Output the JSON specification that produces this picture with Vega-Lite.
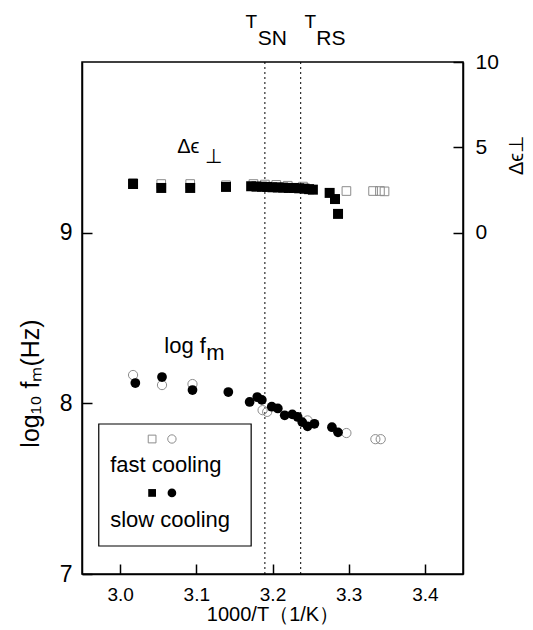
{
  "$schema": "https://vega.github.io/schema/vega-lite/v6.json",
  "width": 381,
  "height": 512,
  "autosize": {"type": "none"},
  "padding": {"left": 82, "top": 62, "right": 70, "bottom": 56},
  "background": "white",
  "config": {
    "font": "Liberation Sans",
    "view": {"stroke": "black", "strokeWidth": 1.5},
    "axis": {
      "grid": false,
      "domainColor": "black",
      "domainWidth": 1.5,
      "tickColor": "black",
      "tickWidth": 1.5,
      "labelColor": "black",
      "titleColor": "black",
      "labelFont": "Liberation Sans",
      "titleFont": "Liberation Sans",
      "titleFontWeight": "normal"
    },
    "text": {"font": "Liberation Sans", "color": "black"}
  },
  "datasets": {
    "fm": [
      {"invT": 3.017, "logf": 8.166, "cooling": "fast"},
      {"invT": 3.055, "logf": 8.107, "cooling": "fast"},
      {"invT": 3.095, "logf": 8.113, "cooling": "fast"},
      {"invT": 3.187, "logf": 7.96, "cooling": "fast"},
      {"invT": 3.193, "logf": 7.95, "cooling": "fast"},
      {"invT": 3.246, "logf": 7.9, "cooling": "fast"},
      {"invT": 3.297, "logf": 7.826, "cooling": "fast"},
      {"invT": 3.335, "logf": 7.79, "cooling": "fast"},
      {"invT": 3.342, "logf": 7.79, "cooling": "fast"},
      {"invT": 3.02, "logf": 8.119, "cooling": "slow"},
      {"invT": 3.055, "logf": 8.154, "cooling": "slow"},
      {"invT": 3.095, "logf": 8.078, "cooling": "slow"},
      {"invT": 3.142, "logf": 8.066, "cooling": "slow"},
      {"invT": 3.17, "logf": 8.008, "cooling": "slow"},
      {"invT": 3.18, "logf": 8.037, "cooling": "slow"},
      {"invT": 3.186, "logf": 8.02, "cooling": "slow"},
      {"invT": 3.199, "logf": 7.98, "cooling": "slow"},
      {"invT": 3.207, "logf": 7.97, "cooling": "slow"},
      {"invT": 3.216, "logf": 7.93, "cooling": "slow"},
      {"invT": 3.226, "logf": 7.935, "cooling": "slow"},
      {"invT": 3.233, "logf": 7.92, "cooling": "slow"},
      {"invT": 3.239, "logf": 7.89, "cooling": "slow"},
      {"invT": 3.246, "logf": 7.865, "cooling": "slow"},
      {"invT": 3.255, "logf": 7.88, "cooling": "slow"},
      {"invT": 3.278, "logf": 7.86, "cooling": "slow"},
      {"invT": 3.286, "logf": 7.83, "cooling": "slow"}
    ],
    "de": [
      {"invT": 3.017, "de": 2.92, "cooling": "fast"},
      {"invT": 3.054, "de": 2.85, "cooling": "fast"},
      {"invT": 3.092, "de": 2.85, "cooling": "fast"},
      {"invT": 3.139, "de": 2.78, "cooling": "fast"},
      {"invT": 3.175, "de": 2.85, "cooling": "fast"},
      {"invT": 3.19, "de": 2.82, "cooling": "fast"},
      {"invT": 3.205, "de": 2.8, "cooling": "fast"},
      {"invT": 3.22, "de": 2.75, "cooling": "fast"},
      {"invT": 3.24, "de": 2.7, "cooling": "fast"},
      {"invT": 3.297, "de": 2.44, "cooling": "fast"},
      {"invT": 3.332, "de": 2.44, "cooling": "fast"},
      {"invT": 3.341, "de": 2.44, "cooling": "fast"},
      {"invT": 3.347, "de": 2.42, "cooling": "fast"},
      {"invT": 3.017, "de": 2.85, "cooling": "slow"},
      {"invT": 3.054, "de": 2.62, "cooling": "slow"},
      {"invT": 3.092, "de": 2.62, "cooling": "slow"},
      {"invT": 3.139, "de": 2.68, "cooling": "slow"},
      {"invT": 3.172, "de": 2.72, "cooling": "slow"},
      {"invT": 3.179, "de": 2.7, "cooling": "slow"},
      {"invT": 3.186, "de": 2.69, "cooling": "slow"},
      {"invT": 3.193, "de": 2.68, "cooling": "slow"},
      {"invT": 3.2, "de": 2.66, "cooling": "slow"},
      {"invT": 3.207, "de": 2.65, "cooling": "slow"},
      {"invT": 3.214, "de": 2.64, "cooling": "slow"},
      {"invT": 3.221, "de": 2.62, "cooling": "slow"},
      {"invT": 3.228, "de": 2.62, "cooling": "slow"},
      {"invT": 3.235, "de": 2.6, "cooling": "slow"},
      {"invT": 3.242, "de": 2.58, "cooling": "slow"},
      {"invT": 3.248, "de": 2.55, "cooling": "slow"},
      {"invT": 3.253, "de": 2.52, "cooling": "slow"},
      {"invT": 3.275, "de": 2.33, "cooling": "slow"},
      {"invT": 3.282, "de": 1.97, "cooling": "slow"},
      {"invT": 3.286, "de": 1.1, "cooling": "slow"}
    ],
    "rules": [
      {"label": "T_SN", "invT": 3.19},
      {"label": "T_RS", "invT": 3.237}
    ]
  },
  "resolve": {"scale": {"y": "independent"}},
  "layer": [
    {
      "layer": [
        {
          "data": {"name": "rules"},
          "mark": {"type": "rule", "color": "black", "strokeWidth": 1, "strokeDash": [2, 3]},
          "encoding": {
            "x": {"field": "invT", "type": "quantitative", "title": "1000/T（1/K）", "scale": {"domain": [2.95, 3.45], "nice": false, "zero": false}}
          }
        },
        {
          "data": {"name": "fm"},
          "transform": [{"filter": "datum.cooling === 'fast'"}],
          "mark": {"type": "point", "shape": "circle", "filled": false, "stroke": "#8c8c8c", "strokeWidth": 1, "size": 85, "opacity": 1},
          "encoding": {
            "x": {
              "field": "invT", "type": "quantitative",
              "scale": {"domain": [2.95, 3.45], "nice": false, "zero": false},
              "title": "1000/T（1/K）",
              "axis": {
                "values": [3.0, 3.1, 3.2, 3.3, 3.4], "format": ".1f",
                "tickSize": -10, "labelPadding": 21, "labelFontSize": 19,
                "titleFontSize": 20, "titleY": 46, "titleBaseline": "alphabetic"
              }
            },
            "y": {
              "field": "logf", "type": "quantitative",
              "scale": {"domain": [7, 10], "nice": false, "zero": false},
              "title": "log₁₀ fₘ(Hz)",
              "axis": {
                "values": [7, 8, 9], "format": "d", "tickSize": -10, "labelPadding": 20, "labelFontSize": 23,
                "titleFontSize": 25, "titleAngle": -90, "titleX": -44, "titleY": 321,
                "titleBaseline": "alphabetic", "titleAlign": "center"
              }
            }
          }
        },
        {
          "data": {"name": "fm"},
          "transform": [{"filter": "datum.cooling === 'slow'"}],
          "mark": {"type": "point", "shape": "circle", "filled": true, "color": "black", "size": 95, "opacity": 1},
          "encoding": {
            "x": {"field": "invT", "type": "quantitative", "title": "1000/T（1/K）"},
            "y": {"field": "logf", "type": "quantitative", "title": "log₁₀ fₘ(Hz)"}
          }
        },
        {
          "data": {"values": [{}]},
          "layer": [
            {
              "mark": {"type": "rect", "fill": "white", "stroke": "black", "strokeWidth": 1.2},
              "encoding": {
                "x": {"datum": 2.972}, "x2": {"datum": 3.172},
                "y": {"datum": 7.879}, "y2": {"datum": 7.164}
              }
            },
            {
              "mark": {"type": "point", "shape": "square", "filled": false, "stroke": "#8c8c8c", "strokeWidth": 1, "size": 60, "opacity": 1},
              "encoding": {"x": {"datum": 3.042}, "y": {"datum": 7.791}}
            },
            {
              "mark": {"type": "point", "shape": "circle", "filled": false, "stroke": "#8c8c8c", "strokeWidth": 1, "size": 70, "opacity": 1},
              "encoding": {"x": {"datum": 3.068}, "y": {"datum": 7.791}}
            },
            {
              "mark": {"type": "point", "shape": "square", "filled": true, "color": "black", "size": 60, "opacity": 1},
              "encoding": {"x": {"datum": 3.042}, "y": {"datum": 7.475}}
            },
            {
              "mark": {"type": "point", "shape": "circle", "filled": true, "color": "black", "size": 75, "opacity": 1},
              "encoding": {"x": {"datum": 3.068}, "y": {"datum": 7.475}}
            },
            {
              "mark": {"type": "text", "fontSize": 22, "align": "left", "baseline": "alphabetic", "text": "fast cooling"},
              "encoding": {"x": {"datum": 2.987}, "y": {"datum": 7.598}}
            },
            {
              "mark": {"type": "text", "fontSize": 22, "align": "left", "baseline": "alphabetic", "text": "slow cooling"},
              "encoding": {"x": {"datum": 2.987}, "y": {"datum": 7.275}}
            },
            {
              "mark": {"type": "text", "fontSize": 22, "align": "left", "baseline": "alphabetic", "text": "log f"},
              "encoding": {"x": {"datum": 3.058}, "y": {"datum": 8.295}}
            },
            {
              "mark": {"type": "text", "fontSize": 22, "align": "left", "baseline": "alphabetic", "text": "m"},
              "encoding": {"x": {"datum": 3.113}, "y": {"datum": 8.254}}
            },
            {
              "mark": {"type": "text", "fontSize": 20, "align": "left", "baseline": "alphabetic", "text": "Δϵ"},
              "encoding": {"x": {"datum": 3.075}, "y": {"datum": 9.467}}
            },
            {
              "mark": {"type": "text", "fontSize": 20, "align": "left", "baseline": "alphabetic", "text": "⊥"},
              "encoding": {"x": {"datum": 3.112}, "y": {"datum": 9.408}}
            },
            {
              "mark": {"type": "text", "fontSize": 19, "align": "left", "baseline": "alphabetic", "text": "T"},
              "encoding": {"x": {"datum": 3.1645}, "y": {"datum": 10.199}}
            },
            {
              "mark": {"type": "text", "fontSize": 21, "align": "left", "baseline": "alphabetic", "text": "SN"},
              "encoding": {"x": {"datum": 3.1805}, "y": {"datum": 10.1}}
            },
            {
              "mark": {"type": "text", "fontSize": 19, "align": "left", "baseline": "alphabetic", "text": "T"},
              "encoding": {"x": {"datum": 3.2421}, "y": {"datum": 10.199}}
            },
            {
              "mark": {"type": "text", "fontSize": 21, "align": "left", "baseline": "alphabetic", "text": "RS"},
              "encoding": {"x": {"datum": 3.2575}, "y": {"datum": 10.1}}
            }
          ]
        }
      ]
    },
    {
      "data": {"name": "de"},
      "layer": [
        {
          "transform": [{"filter": "datum.cooling === 'fast'"}],
          "mark": {"type": "point", "shape": "square", "filled": false, "stroke": "#8c8c8c", "strokeWidth": 1, "size": 75, "opacity": 1},
          "encoding": {
            "x": {"field": "invT", "type": "quantitative", "title": "1000/T（1/K）"},
            "y": {
              "field": "de", "type": "quantitative",
              "scale": {"domain": [-20, 10], "nice": false, "zero": false},
              "title": "Δϵ⊥",
              "axis": {
                "orient": "right", "values": [0, 5, 10], "tickSize": -10, "labelPadding": 22,
                "labelFontSize": 21, "titleFontSize": 20, "titleAngle": -90, "titleX": 59, "titleY": 93,
                "titleBaseline": "alphabetic", "titleAlign": "center"
              }
            }
          }
        },
        {
          "transform": [{"filter": "datum.cooling === 'slow'"}],
          "mark": {"type": "point", "shape": "square", "filled": true, "color": "black", "size": 100, "opacity": 1},
          "encoding": {
            "x": {"field": "invT", "type": "quantitative", "title": "1000/T（1/K）"},
            "y": {"field": "de", "type": "quantitative", "title": "Δϵ⊥"}
          }
        }
      ]
    }
  ]
}
